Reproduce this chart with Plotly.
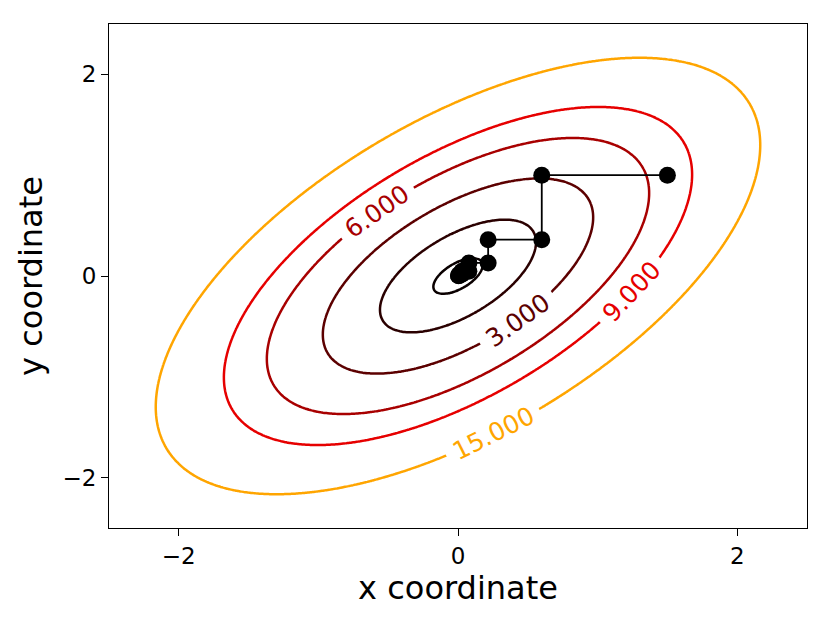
import numpy as np
import plotly.graph_objects as go

# quadratic objective f(x, y) = A x^2 + B x y + C y^2
coef_A, coef_B, coef_C = 5.0, -6.0, 5.0
levels = [0.1, 1.0, 3.0, 6.0, 9.0, 15.0]
level_colors = ["#0a0000", "#2a0000", "#5c0000", "#a80000", "#e60000", "#ffa500"]

# coordinate-descent iterates
path_x = [1.5, 0.6, 0.6, 0.216, 0.216, 0.0778, 0.0778, 0.028, 0.028, 0.0101, 0.0101, 0.0036, 0.0036]
path_y = [1.0, 1.0, 0.36, 0.36, 0.1296, 0.1296, 0.0467, 0.0467, 0.0168, 0.0168, 0.0060, 0.0060, 0.0022]

# labelled levels and approximate label spots
label_levels = [6.0, 3.0, 9.0, 15.0]
label_spots = [(-0.60, 0.665), (0.42, -0.43), (1.22, -0.15), (0.25, -1.54)]

x_tick_vals = [-2, 0, 2]
y_tick_vals = [-2, 0, 2]

def f(x, y):
    return coef_A * x**2 + coef_B * x * y + coef_C * y**2

gx = np.linspace(-2.5, 2.5, 301)
gy = np.linspace(-2.5, 2.5, 301)
GX, GY = np.meshgrid(gx, gy)
Z = f(GX, GY)

fig = go.Figure()
for L, c in zip(levels, level_colors):
    fig.add_trace(go.Contour(
        x=gx, y=gy, z=Z, autocontour=False,
        contours=dict(start=L, end=L, size=1, coloring="none"),
        line=dict(color=c, width=2.5, smoothing=1.3),
        showscale=False, hoverinfo="skip",
    ))

fig.add_trace(go.Scatter(
    x=path_x, y=path_y, mode="lines+markers",
    line=dict(color="black", width=1.8),
    marker=dict(color="black", size=17),
    hoverinfo="skip", showlegend=False,
))

W, H = 830, 623
ml, mt = 101, 16
pw, ph = 698, 504
mr = W - ml - pw
mb = H - mt - ph
sx = pw / 5.0
sy = ph / 5.0

annotations = []
for L, (px, py) in zip(label_levels, label_spots):
    s = np.sqrt(L / f(px, py))
    x0, y0 = px * s, py * s
    gxv = 2 * coef_A * x0 + coef_B * y0
    gyv = coef_B * x0 + 2 * coef_C * y0
    tx, ty = gyv, -gxv
    ang = np.degrees(np.arctan2(-ty * sy, tx * sx))
    if ang > 90:
        ang -= 180
    if ang < -90:
        ang += 180
    col = level_colors[levels.index(L)]
    annotations.append(dict(
        x=x0, y=y0, xref="x", yref="y", showarrow=False,
        text="\u00a0" + f"{L:.3f}" + "\u00a0",
        textangle=ang, bgcolor="white", borderpad=0,
        font=dict(family="DejaVu Sans", size=25, color=col),
    ))

fig.update_layout(
    width=W, height=H,
    margin=dict(l=ml, r=mr, t=mt, b=mb),
    paper_bgcolor="white", plot_bgcolor="white",
    font=dict(family="DejaVu Sans", color="black"),
    showlegend=False,
    annotations=annotations,
    xaxis=dict(
        range=[-2.5, 2.5], tickvals=x_tick_vals, ticks="outside", ticklen=7,
        tickwidth=1.2, tickcolor="black", showgrid=False, zeroline=False,
        showline=True, linecolor="black", linewidth=1.2, mirror=True,
        tickfont=dict(size=23),
        title=dict(text="x coordinate", font=dict(size=32), standoff=5),
    ),
    yaxis=dict(
        range=[-2.5, 2.5], tickvals=y_tick_vals, ticks="outside", ticklen=7,
        tickwidth=1.2, tickcolor="black", showgrid=False, zeroline=False,
        showline=True, linecolor="black", linewidth=1.2, mirror=True,
        tickfont=dict(size=23),
        title=dict(text="y coordinate", font=dict(size=32), standoff=10),
    ),
)

fig.write_html("out.html")
